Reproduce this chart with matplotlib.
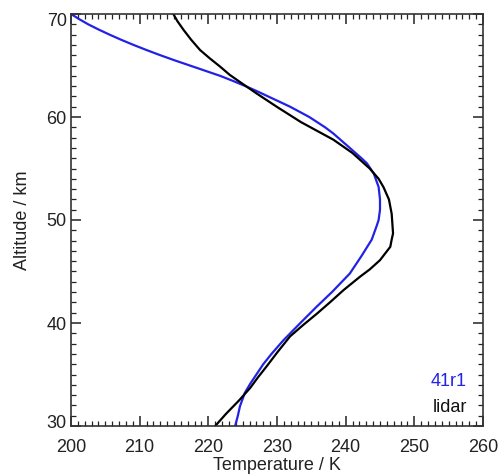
import matplotlib
matplotlib.use("Agg")
import matplotlib.pyplot as plt
from matplotlib.ticker import MultipleLocator
from matplotlib.transforms import ScaledTranslation

plt.rcParams['font.family'] = ['Liberation Sans', 'DejaVu Sans']

# 41r1 model profile (altitude km, temperature K)
alt_41r1 = [70, 69.5, 69, 68.5, 68, 67.5, 67, 66.5, 66, 65.5, 65, 64.5, 64, 63.5, 63,
            62.5, 62, 61.5, 61, 60, 59, 58.4, 57, 56, 55.5, 54.5, 53.2, 52, 51, 50, 49.4,
            48.1, 46.5, 44.8, 43, 41.6, 40, 38.3, 37, 36, 35, 34.1, 33.2, 31.9, 31, 30]
temp_41r1 = [200.0, 201.2, 202.5, 204.0, 205.6, 207.3, 209.1, 211.0, 213.0, 215.1, 217.3,
             219.5, 221.7, 223.6, 225.4, 227.1, 228.7, 230.3, 231.9, 234.7, 237.0, 238.2,
             240.6, 242.3, 243.1, 244.1, 244.8, 245.0, 245.0, 244.8, 244.5, 243.8, 242.3,
             240.6, 238.0, 235.8, 233.4, 230.9, 229.2, 228.0, 227.0, 226.1, 225.3, 224.6,
             224.3, 223.9]

# lidar profile
alt_lidar = [70, 69.3, 68.45, 67.5, 66.5, 65.7, 64.9, 64.1, 63.4, 62.3, 61, 59.5, 57.8,
             56.5, 55, 54, 53.2, 52, 50.6, 48.7, 48.1, 47.4, 46.1, 45.2, 44.5, 43.2, 42,
             40.9, 39.8, 38.7, 37.2, 35.8, 34.7, 33.7, 32.5, 31.2, 30]
temp_lidar = [214.9, 215.5, 216.4, 217.5, 218.8, 220.2, 221.7, 223.1, 224.6, 227.0, 229.95,
              233.5, 238.2, 241.0, 243.5, 244.8, 245.5, 246.3, 246.7, 246.9, 246.7, 246.5,
              245.0, 243.5, 242.1, 239.7, 237.7, 235.8, 233.8, 231.9, 230.1, 228.5, 227.2,
              226.1, 224.5, 222.6, 221.0]

xticks = [200, 210, 220, 230, 240, 250, 260]
yticks = [30, 40, 50, 60, 70]

blue = '#2222e6'
fs = 13

fig = plt.figure(figsize=(5.01, 4.76), dpi=100)
ax = fig.add_axes([71/501, 1-426/476, 412/501, 412/476])

ax.plot(temp_41r1, alt_41r1, color=blue, lw=1.6, solid_joinstyle='round')
ax.plot(temp_lidar, alt_lidar, color='black', lw=1.6, solid_joinstyle='round')

ax.set_xlim(200, 260)
ax.set_ylim(30, 70)
ax.set_xticks(xticks)
ax.set_yticks(yticks)
ax.xaxis.set_minor_locator(MultipleLocator(1))
ax.yaxis.set_minor_locator(MultipleLocator(1))
ax.tick_params(which='both', direction='in', top=True, right=True, color='#222222')
ax.tick_params(which='major', length=7, width=1.1, labelsize=fs, colors='#222222')
ax.tick_params(axis='x', which='major', pad=9)
ax.tick_params(axis='y', which='major', pad=3)
ax.tick_params(which='minor', length=3.5, width=0.9)
for s in ax.spines.values():
    s.set_linewidth(1.2)
    s.set_color('#333333')

# end labels sit slightly inside the axis range, as in the original
yt = ax.yaxis.get_major_ticks()
yt[0].label1.set_transform(yt[0].label1.get_transform() +
                           ScaledTranslation(0, 4/100, fig.dpi_scale_trans))
yt[-1].label1.set_transform(yt[-1].label1.get_transform() +
                            ScaledTranslation(0, -6/100, fig.dpi_scale_trans))

ax.set_xlabel('Temperature / K', fontsize=fs, color='#222222', labelpad=1)
ax.set_ylabel('Altitude / km', fontsize=fs, color='#222222', labelpad=11)

ax.text(0.961, 0.109, '41r1', transform=ax.transAxes, ha='right', va='center',
        color=blue, fontsize=fs)
ax.text(0.961, 0.046, 'lidar', transform=ax.transAxes, ha='right', va='center',
        color='#111111', fontsize=fs)

fig.savefig('out.png', dpi=100)
